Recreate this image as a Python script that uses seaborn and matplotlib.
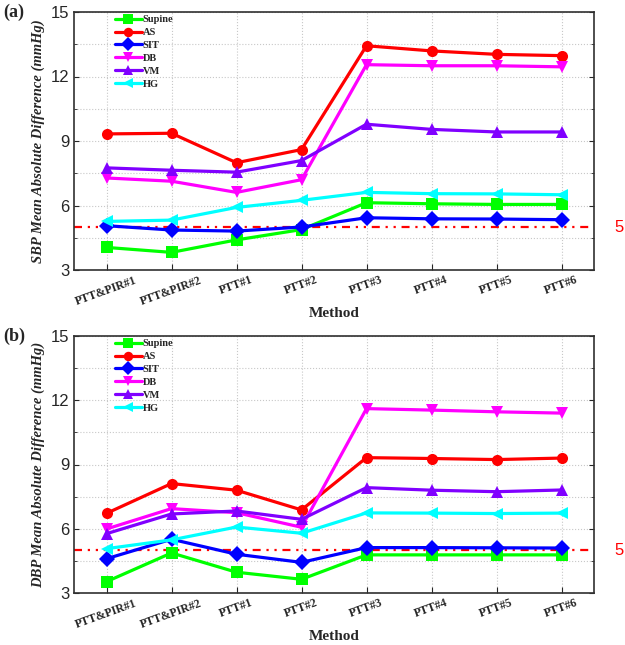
#!/usr/bin/env python3

import numpy as np
import matplotlib as mpl
mpl.use('Agg')
from matplotlib import pyplot as plt
import seaborn as sns
import pandas as pd

sns.set_style('ticks')

methods = ['PTT&PIR#1', 'PTT&PIR#2', 'PTT#1', 'PTT#2', 'PTT#3', 'PTT#4', 'PTT#5', 'PTT#6']
postures = ['Supine', 'AS', 'SIT', 'DB', 'VM', 'HG']

sbp_supine = [4.05, 3.82, 4.40, 4.88, 6.13, 6.08, 6.05, 6.05]
sbp_as = [9.33, 9.36, 7.99, 8.60, 13.43, 13.19, 13.03, 12.97]
sbp_sit = [5.06, 4.86, 4.81, 5.00, 5.43, 5.38, 5.37, 5.34]
sbp_db = [7.28, 7.13, 6.61, 7.20, 12.55, 12.50, 12.50, 12.45]
sbp_vm = [7.75, 7.64, 7.55, 8.09, 9.78, 9.54, 9.42, 9.42]
sbp_hg = [5.26, 5.32, 5.91, 6.24, 6.61, 6.55, 6.54, 6.50]

dbp_supine = [3.53, 4.87, 3.97, 3.64, 4.78, 4.78, 4.78, 4.78]
dbp_as = [6.72, 8.11, 7.80, 6.88, 9.32, 9.28, 9.23, 9.30]
dbp_sit = [4.60, 5.51, 4.81, 4.43, 5.12, 5.12, 5.11, 5.10]
dbp_db = [5.99, 6.94, 6.75, 6.07, 11.61, 11.54, 11.46, 11.40]
dbp_vm = [5.77, 6.69, 6.83, 6.44, 7.92, 7.80, 7.73, 7.81]
dbp_hg = [5.07, 5.48, 6.08, 5.79, 6.74, 6.73, 6.71, 6.73]

threshold = 5

colors = ['#00ff00', '#ff0000', '#0000ff', '#ff00ff', '#8000ff', '#00ffff']
markers = ['s', 'o', 'D', 'v', '^', '<']

def to_frame(series):
    return pd.DataFrame.from_records([
        {'Method': m, 'Posture': p, 'value': v}
        for p, vals in zip(postures, series) for m, v in zip(methods, vals)])

sbp = to_frame([sbp_supine, sbp_as, sbp_sit, sbp_db, sbp_vm, sbp_hg])
dbp = to_frame([dbp_supine, dbp_as, dbp_sit, dbp_db, dbp_vm, dbp_hg])

serif = 'Liberation Serif'
sans = 'Liberation Sans'

fig = plt.figure(figsize=(6.25, 6.45), dpi=100)
ax1 = fig.add_axes([74/625, 1 - 270/645, 520/625, 258/645])
ax2 = fig.add_axes([74/625, 1 - 593/645, 520/625, 257/645])

for ax, df, label, tag, tag_y in [(ax1, sbp, 'SBP Mean Absolute Difference (mmHg)', '(a)', 12),
                                  (ax2, dbp, 'DBP Mean Absolute Difference (mmHg)', '(b)', 336)]:
    g = sns.lineplot(data=df, x='Method', y='value', hue='Posture', style='Posture',
                     hue_order=postures, style_order=postures, palette=colors,
                     markers=markers, dashes=False, sort=False, ax=ax,
                     linewidth=2.3, markersize=8, markeredgewidth=0)
    # dash-dot-dot reference line
    ax.axhline(threshold, color='red', linestyle=(0, (3.6, 2.6, 1, 2.6, 1, 2.6)),
               linewidth=1.6, zorder=1)
    ax.text(1.04, threshold, str(threshold), color='red', fontsize=12, fontfamily=sans,
            transform=ax.get_yaxis_transform(), va='center', ha='left')
    ax.set_ylim(3, 15)
    ax.set_xlim(-0.5, 7.5)
    ax.set_yticks([3, 6, 9, 12, 15])
    ax.set_yticks(np.arange(3, 15.1, 1.5), minor=True)
    ax.grid(True, which='both', axis='y', linestyle=':', color='#c8c8c8', linewidth=0.8)
    ax.grid(True, which='major', axis='x', linestyle=':', color='#c8c8c8', linewidth=0.8)
    ax.tick_params(axis='y', which='both', direction='in', right=True, labelsize=12)
    ax.tick_params(axis='x', direction='in', top=False, length=4, pad=3)
    for t in ax.get_yticklabels():
        t.set_fontfamily(sans)
    ax.set_xticks(range(len(methods)))
    ax.set_xticklabels(methods, rotation=20, ha='center', fontfamily=serif,
                       fontweight='bold', fontsize=8.5)
    ax.set_xlabel('Method', fontfamily=serif, fontweight='bold', fontsize=11, labelpad=0)
    ax.set_ylabel(label, fontfamily=serif, fontweight='bold', fontstyle='italic', fontsize=10.5)
    for s in ax.spines.values():
        s.set_linewidth(1.2)
        s.set_color('#303030')
    leg = ax.legend(loc='upper left', bbox_to_anchor=(0.06, 1.025), frameon=False,
                    handlelength=2.6, handletextpad=0.1, labelspacing=0.35, markerscale=0.85,
                    prop={'family': serif, 'weight': 'bold', 'size': 7.5})
    fig.text(3/625, 1 - tag_y/645, tag, fontfamily=serif, fontweight='bold',
             fontsize=13, ha='left', va='center')

fig.savefig('out.png', dpi=100)
